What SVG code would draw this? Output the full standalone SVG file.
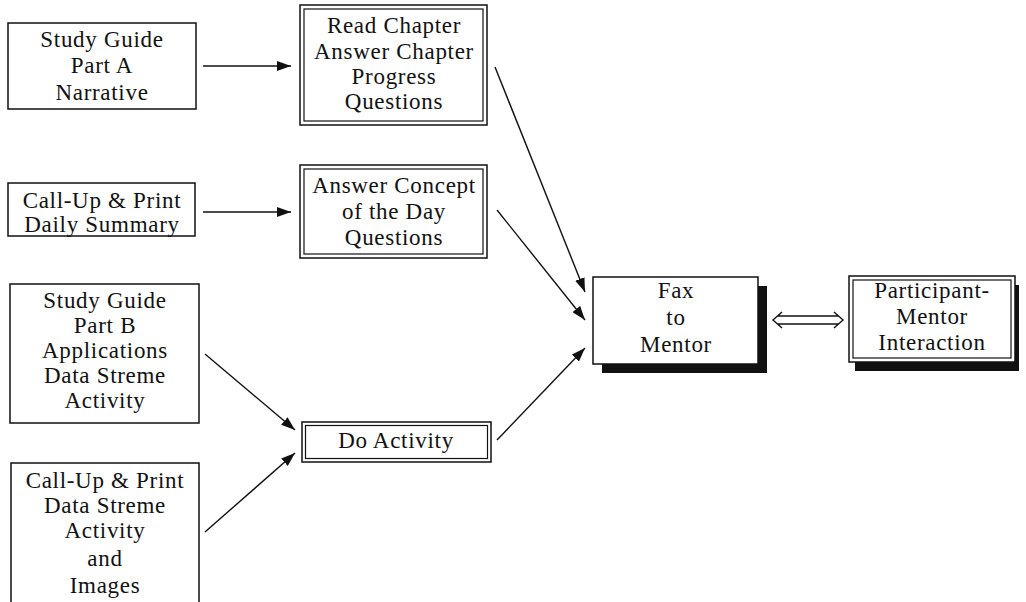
<svg xmlns="http://www.w3.org/2000/svg" width="1026" height="602" viewBox="0 0 1026 602">
<defs>
<style>
text{font-family:"Liberation Serif","Times New Roman",serif;font-size:23px;fill:#111;text-anchor:middle;letter-spacing:0.7px}
.box{fill:#fff;stroke:#111;stroke-width:1.5}
.inner{fill:none;stroke:#111;stroke-width:1.2}
.shadow{fill:#111}
.conn{stroke:#111;stroke-width:1.4;fill:none}
</style>
<marker id="ah" viewBox="0 0 14 10" refX="14" refY="5" markerWidth="14" markerHeight="10" markerUnits="userSpaceOnUse" orient="auto">
<path d="M0,0 L14,5 L0,10 Z" fill="#111"/>
</marker>
</defs>
<rect width="1026" height="602" fill="#fff"/>

<g id="studyA">
<rect class="box" x="8" y="23" width="188" height="86"/>
<text x="102" y="47">Study Guide</text>
<text x="102" y="73">Part A</text>
<text x="102" y="100">Narrative</text>
</g>

<g id="callupDaily">
<rect class="box" x="8" y="183" width="187" height="53"/>
<text x="102" y="208">Call-Up &amp; Print</text>
<text x="102" y="232">Daily Summary</text>
</g>

<g id="studyB">
<rect class="box" x="10" y="284" width="189" height="139"/>
<text x="105" y="308">Study Guide</text>
<text x="105" y="333">Part B</text>
<text x="105" y="358">Applications</text>
<text x="105" y="383">Data Streme</text>
<text x="105" y="408">Activity</text>
</g>

<g id="callupData">
<rect class="box" x="11" y="463" width="188" height="145"/>
<text x="105" y="488">Call-Up &amp; Print</text>
<text x="105" y="513">Data Streme</text>
<text x="105" y="538">Activity</text>
<text x="105" y="566">and</text>
<text x="105" y="593">Images</text>
</g>

<g id="readChapter">
<rect class="box" x="300" y="5" width="187" height="120"/>
<rect class="inner" x="304" y="9" width="179" height="112"/>
<text x="394" y="33">Read Chapter</text>
<text x="394" y="59">Answer Chapter</text>
<text x="394" y="84">Progress</text>
<text x="394" y="109">Questions</text>
</g>

<g id="answerConcept">
<rect class="box" x="300" y="165" width="187" height="93"/>
<rect class="inner" x="304" y="169" width="179" height="85"/>
<text x="394" y="193">Answer Concept</text>
<text x="394" y="219">of the Day</text>
<text x="394" y="245">Questions</text>
</g>

<g id="doActivity">
<rect class="box" x="302" y="422" width="189" height="40"/>
<rect class="inner" x="305.5" y="425.5" width="182" height="33"/>
<text x="396" y="448">Do Activity</text>
</g>

<g id="fax">
<rect class="shadow" x="602" y="286" width="165" height="87"/>
<rect class="box" x="593" y="277" width="165" height="87"/>
<text x="676" y="298">Fax</text>
<text x="676" y="325">to</text>
<text x="676" y="352">Mentor</text>
</g>

<g id="participant">
<rect class="shadow" x="855" y="285" width="164" height="86"/>
<rect class="box" x="849" y="276" width="166" height="86"/>
<rect class="inner" x="853" y="280" width="158" height="78"/>
<text x="932" y="298">Participant-</text>
<text x="932" y="324">Mentor</text>
<text x="932" y="350">Interaction</text>
</g>

<g id="connectors">
<line class="conn" x1="203" y1="66" x2="291" y2="66" marker-end="url(#ah)"/>
<line class="conn" x1="203" y1="212" x2="291" y2="212" marker-end="url(#ah)"/>
<line class="conn" x1="205" y1="354" x2="295" y2="430" marker-end="url(#ah)"/>
<line class="conn" x1="205" y1="532" x2="295" y2="453" marker-end="url(#ah)"/>
<line class="conn" x1="495" y1="67" x2="585" y2="292" marker-end="url(#ah)"/>
<line class="conn" x1="497" y1="210" x2="585" y2="320" marker-end="url(#ah)"/>
<line class="conn" x1="497" y1="440" x2="585" y2="348" marker-end="url(#ah)"/>
<path class="conn" stroke-width="1.3" d="M782,312 L773,320 L782,328 M778,316 L838,316 M778,324 L838,324 M834,312 L843,320 L834,328"/>
</g>
</svg>
